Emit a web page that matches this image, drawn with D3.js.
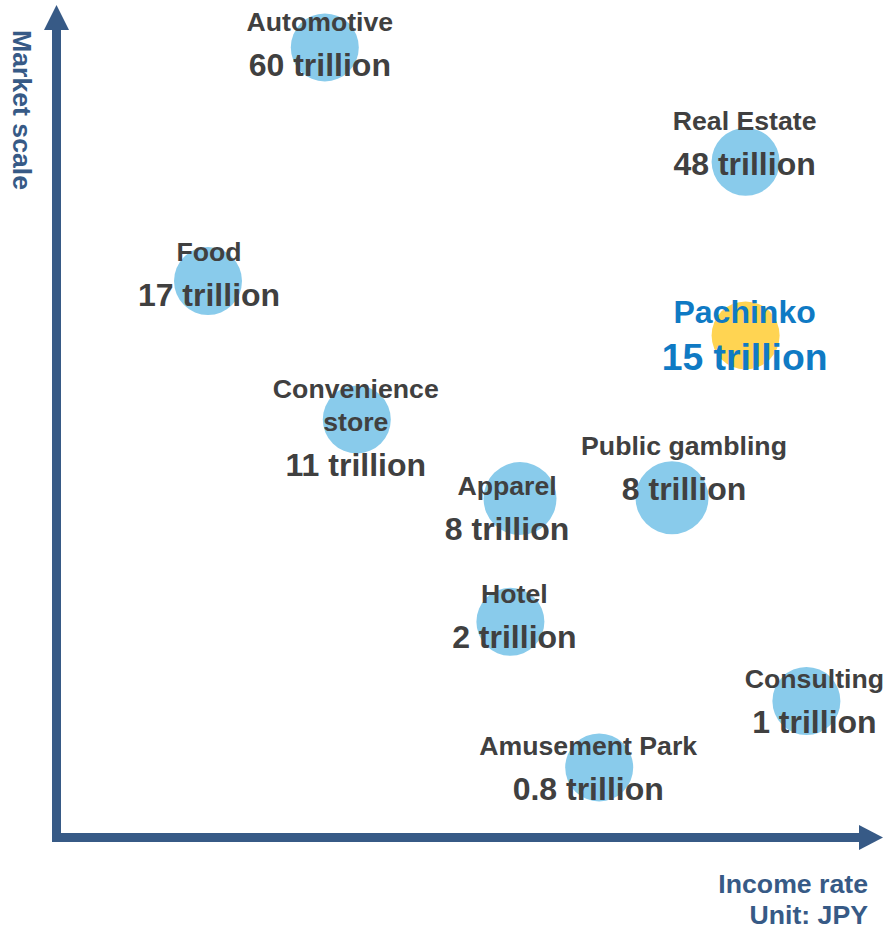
<!DOCTYPE html>
<html>
<head>
<meta charset="utf-8">
<script src="https://cdn.jsdelivr.net/npm/d3@7"></script>
<style>
  html, body { margin: 0; padding: 0; background: #ffffff; }
  svg { display: block; font-family: "Liberation Sans", Arial, Helvetica, sans-serif; font-weight: bold; }
</style>
</head>
<body>
<svg id="chart" width="884" height="929"></svg>
<script>
// Industries placed by income rate (x) and relative market-scale position (y)
const industries = ["Automotive", "Real Estate", "Food", "Pachinko", "Convenience store",
                    "Apparel", "Public gambling", "Hotel", "Consulting", "Amusement Park"];
const incomeRate    = [33.6, 86.2, 19.0, 86.2, 37.6, 58.0, 77.0, 56.8, 93.8, 67.9];
const scalePosition = [98.7, 84.4, 69.5, 62.7, 52.2, 42.3, 42.4, 26.9, 17.0, 8.7];
// Market scale in trillion JPY
const marketScale   = [60, 48, 17, 15, 11, 8, 8, 2, 1, 0.8];
const highlight = "Pachinko";

const axisTitleX = ["Income rate", "Unit: JPY"];
const axisTitleY = "Market scale";

// Label placement relative to each bubble (name lines + value line)
const labelOffsets = [
  [-5, 29], [-1, 13], [1, 25], [-1, 35], [-1, 57],
  [-13, 41], [12, 2], [4, 26], [8, 32], [-11, 33]
];
const nameLines = {
  "Convenience store": ["Convenience", "store"]
};

const svg = d3.select("#chart");

const x = d3.scaleLinear().domain([0, 100]).range([56, 856]);
const y = d3.scaleLinear().domain([0, 100]).range([837, 37]);

const axisColor = "#375a86";
const bubbleColor = "#89cbeb";
const highlightColor = "#ffd452";
const textColor = "#404040";
const highlightText = "#0f7ac4";
const R = 34;

// Axes with arrowheads
const ox = 56.5, oy = 837.5;
const axes = svg.append("g");
axes.append("line")
  .attr("x1", ox).attr("y1", oy + 4).attr("x2", ox).attr("y2", 29)
  .attr("stroke", axisColor).attr("stroke-width", 9);
axes.append("path")
  .attr("d", `M${ox - 12.5},30 L${ox + 12.5},30 L${ox},5 Z`)
  .attr("fill", axisColor);
axes.append("line")
  .attr("x1", ox - 4.5).attr("y1", oy).attr("x2", 860).attr("y2", oy)
  .attr("stroke", axisColor).attr("stroke-width", 9);
axes.append("path")
  .attr("d", `M859,${oy - 12.5} L859,${oy + 12.5} L883,${oy} Z`)
  .attr("fill", axisColor);

// Axis titles
svg.append("text")
  .attr("transform", "translate(13,30) rotate(90)")
  .attr("fill", axisColor)
  .attr("font-size", 26.67)
  .attr("text-anchor", "start")
  .text(axisTitleY);

svg.append("g").selectAll("text")
  .data(axisTitleX)
  .join("text")
  .attr("x", 868)
  .attr("y", (d, i) => 893 + i * 31)
  .attr("text-anchor", "end")
  .attr("fill", axisColor)
  .attr("font-size", 26.67)
  .text(d => d);

// Bubbles
const data = industries.map((name, i) => ({
  name, rate: incomeRate[i], pos: scalePosition[i], value: marketScale[i],
  off: labelOffsets[i]
}));

svg.append("g").selectAll("circle")
  .data(data)
  .join("circle")
  .attr("cx", d => x(d.rate))
  .attr("cy", d => y(d.pos))
  .attr("r", d => (d.value === 8 ? R + 2.5 : R))
  .attr("fill", d => d.name === highlight ? highlightColor : bubbleColor);

// Labels
const labels = svg.append("g").selectAll("g")
  .data(data)
  .join("g")
  .attr("transform", d => `translate(${x(d.rate) + d.off[0]},${y(d.pos) + d.off[1]})`)
  .attr("text-anchor", "middle");

labels.each(function(d) {
  const g = d3.select(this);
  const hi = d.name === highlight;
  const color = hi ? highlightText : textColor;
  const lines = nameLines[d.name] || [d.name];
  const gap = hi ? 47 : 45;
  lines.slice().reverse().forEach((line, k) => {
    g.append("text")
      .attr("y", -gap - k * 33)
      .attr("fill", color)
      .attr("font-size", hi ? 32 : 26.67)
      .text(lines[lines.length - 1 - k]);
  });
  g.append("text")
    .attr("y", 0)
    .attr("fill", color)
    .attr("font-size", hi ? 37.33 : 32)
    .text(`${d.value} trillion`);
});
</script>
</body>
</html>
